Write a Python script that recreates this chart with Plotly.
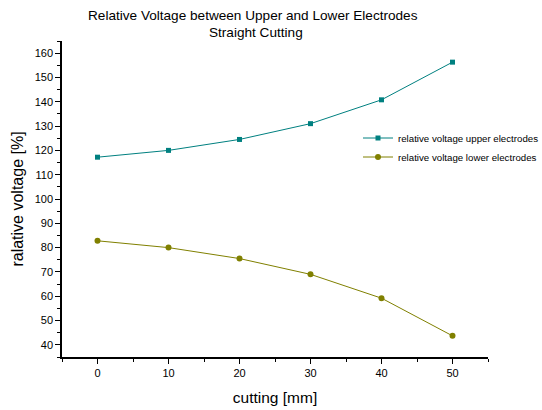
import plotly.graph_objects as go

cutting = [0, 10, 20, 30, 40, 50]
upper = [117.2, 120.0, 124.5, 131.0, 140.8, 156.3]
lower = [82.8, 80.0, 75.5, 69.0, 59.2, 43.7]

W, H = 542, 410
L, R, T, B = 62, 54, 41, 53
PW, PH = W - L - R, H - T - B

fig = go.Figure()
fig.add_trace(go.Scatter(x=cutting, y=upper, mode="lines+markers",
                         name="relative voltage upper electrodes",
                         line=dict(color="#008080", width=1),
                         marker=dict(symbol="square", size=5, color="#008080")))
fig.add_trace(go.Scatter(x=cutting, y=lower, mode="lines+markers",
                         name="relative voltage lower electrodes",
                         line=dict(color="#808000", width=1),
                         marker=dict(symbol="circle", size=6, color="#808000")))

font = "Liberation Sans, Arial, sans-serif"


def px_x(p):
    return (p - L) / PW


def px_y(p):
    return 1 - (p - T) / PH


fig.update_layout(
    width=W, height=H,
    margin=dict(l=L, r=R, t=T, b=B, autoexpand=False),
    plot_bgcolor="white", paper_bgcolor="white",
    font=dict(family=font, color="black", size=11),
    showlegend=True,
    legend=dict(x=px_x(358), y=px_y(147.5), xanchor="left", yanchor="middle",
                bgcolor="rgba(0,0,0,0)", font=dict(size=9.7), tracegroupgap=0),
    annotations=[
        dict(text="Relative Voltage between Upper and Lower Electrodes",
             x=px_x(253), y=px_y(15), xref="paper", yref="paper",
             showarrow=False, xanchor="center", yanchor="middle",
             font=dict(size=13.6)),
        dict(text="Straight Cutting",
             x=px_x(256), y=px_y(32), xref="paper", yref="paper",
             showarrow=False, xanchor="center", yanchor="middle",
             font=dict(size=13.6)),
    ],
)

fig.update_xaxes(range=[-5, 55], tickvals=[0, 10, 20, 30, 40, 50], automargin=False,
                 showline=True, linecolor="black", linewidth=1.5,
                 ticks="outside", ticklen=5, tickwidth=1.2, tickcolor="black",
                 minor=dict(ticks="outside", dtick=5, tick0=0, ticklen=3, tickwidth=1.2, tickcolor="black"),
                 showgrid=False, zeroline=False,
                 title=dict(text="cutting [mm]", font=dict(size=15.5), standoff=14))
fig.update_yaxes(range=[35, 165], tickvals=list(range(40, 161, 10)), automargin=False,
                 showline=True, linecolor="black", linewidth=1.5,
                 ticks="outside", ticklen=5, tickwidth=1.2, tickcolor="black",
                 minor=dict(ticks="outside", dtick=5, tick0=0, ticklen=3, tickwidth=1.2, tickcolor="black"),
                 showgrid=False, zeroline=False,
                 title=dict(text="ralative voltage [%]", font=dict(size=16), standoff=7))

fig.write_html("out.html", config={"displayModeBar": False},
               post_script="document.body.style.margin='0px';document.body.style.overflow='hidden';")
